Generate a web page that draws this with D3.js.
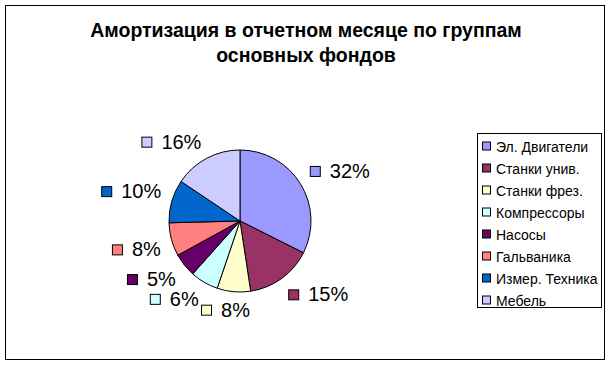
<!DOCTYPE html>
<html>
<head>
<meta charset="utf-8">
<script src="https://cdn.jsdelivr.net/npm/d3@7"></script>
<style>
  body { margin: 0; background: #fff; }
  svg { display: block; font-family: "Liberation Sans", Arial, sans-serif; }
</style>
</head>
<body>
<svg width="612" height="367"></svg>
<script>
let titleLines = ['Амортизация в отчетном месяце по группам', 'основных фондов']
let groups = ['Эл. Двигатели', 'Станки унив.', 'Станки фрез.', 'Компрессоры', 'Насосы', 'Гальваника', 'Измер. Техника', 'Мебель']
let shares = [32.4, 15.2, 7.6, 6.4, 5.4, 7.6, 9.8, 15.6]
let colors = ['#9999ff', '#993366', '#ffffcc', '#ccffff', '#660066', '#ff8080', '#0066cc', '#ccccff']

let svg = d3.select('svg')
let data = groups.map((g, i) => ({ name: g, value: shares[i] }))
let total = d3.sum(shares)

// chart frame
svg.append('rect')
  .attr('x', 5.5).attr('y', 5.5)
  .attr('width', 599).attr('height', 354)
  .attr('fill', '#fff').attr('stroke', '#000')

svg.append('text')
  .attr('text-anchor', 'middle')
  .attr('font-size', 19.5)
  .attr('font-weight', 'bold')
  .selectAll('tspan')
  .data(titleLines)
  .enter().append('tspan')
    .attr('x', 306)
    .attr('y', (d, i) => 37 + i * 25)
    .text(d => d)

let color = d3.scaleOrdinal().domain(groups).range(colors)

let cx = 240, cy = 221, radius = 71
let arcs = d3.pie().sort(null).value(d => d.value)(data)
let arcGen = d3.arc().innerRadius(0).outerRadius(radius)

let pie = svg.append('g').attr('transform', `translate(${cx}, ${cy})`)

pie.selectAll('path')
  .data(arcs)
  .enter().append('path')
    .attr('d', arcGen)
    .attr('fill', d => color(d.data.name))
    .attr('stroke', '#000')
    .attr('stroke-width', 1)

// data labels: swatch + percent, placed by the corner nearest the pie
let labelR = radius + 11
let boxH = 14
let labels = pie.selectAll('.lbl')
  .data(arcs)
  .enter().append('g')
    .classed('lbl', true)

labels.each(function (d) {
  let g = d3.select(this)
  let txt = g.append('text')
    .attr('font-size', 20)
    .text(Math.round(d.data.value / total * 100) + '%')
  let w = 11 + 9 + txt.node().getComputedTextLength()
  let mid = (d.startAngle + d.endAngle) / 2
  let s = Math.sin(mid), c = Math.cos(mid)
  let px = s * labelR, py = -c * labelR
  let left = Math.abs(s) < 0.2 ? px - w * 0.65 : (s > 0 ? px : px - w)
  let top = c > 0 ? py - boxH : py
  g.append('rect')
    .attr('x', left + 0.5).attr('y', top + 2.5)
    .attr('width', 10).attr('height', 10)
    .attr('fill', color(d.data.name))
    .attr('stroke', '#000')
  txt.attr('x', left + 20).attr('y', top + boxH)
})

// legend
let legendX = 477, legendY = 133
svg.append('rect')
  .attr('x', legendX + 0.5).attr('y', legendY + 0.5)
  .attr('width', 124).attr('height', 174)
  .attr('fill', '#fff').attr('stroke', '#000')

let rowY = d3.scalePoint().domain(groups).range([146.5, 300.5])

let rows = svg.selectAll('.legend-row')
  .data(groups)
  .enter().append('g')
    .classed('legend-row', true)
    .attr('transform', d => `translate(${legendX}, ${rowY(d)})`)

rows.append('rect')
  .attr('x', 5.5).attr('y', -4.5)
  .attr('width', 8).attr('height', 8)
  .attr('fill', d => color(d))
  .attr('stroke', '#000')

rows.append('text')
  .attr('x', 19)
  .attr('y', 5)
  .attr('font-size', 14)
  .text(d => d)
</script>
</body>
</html>
